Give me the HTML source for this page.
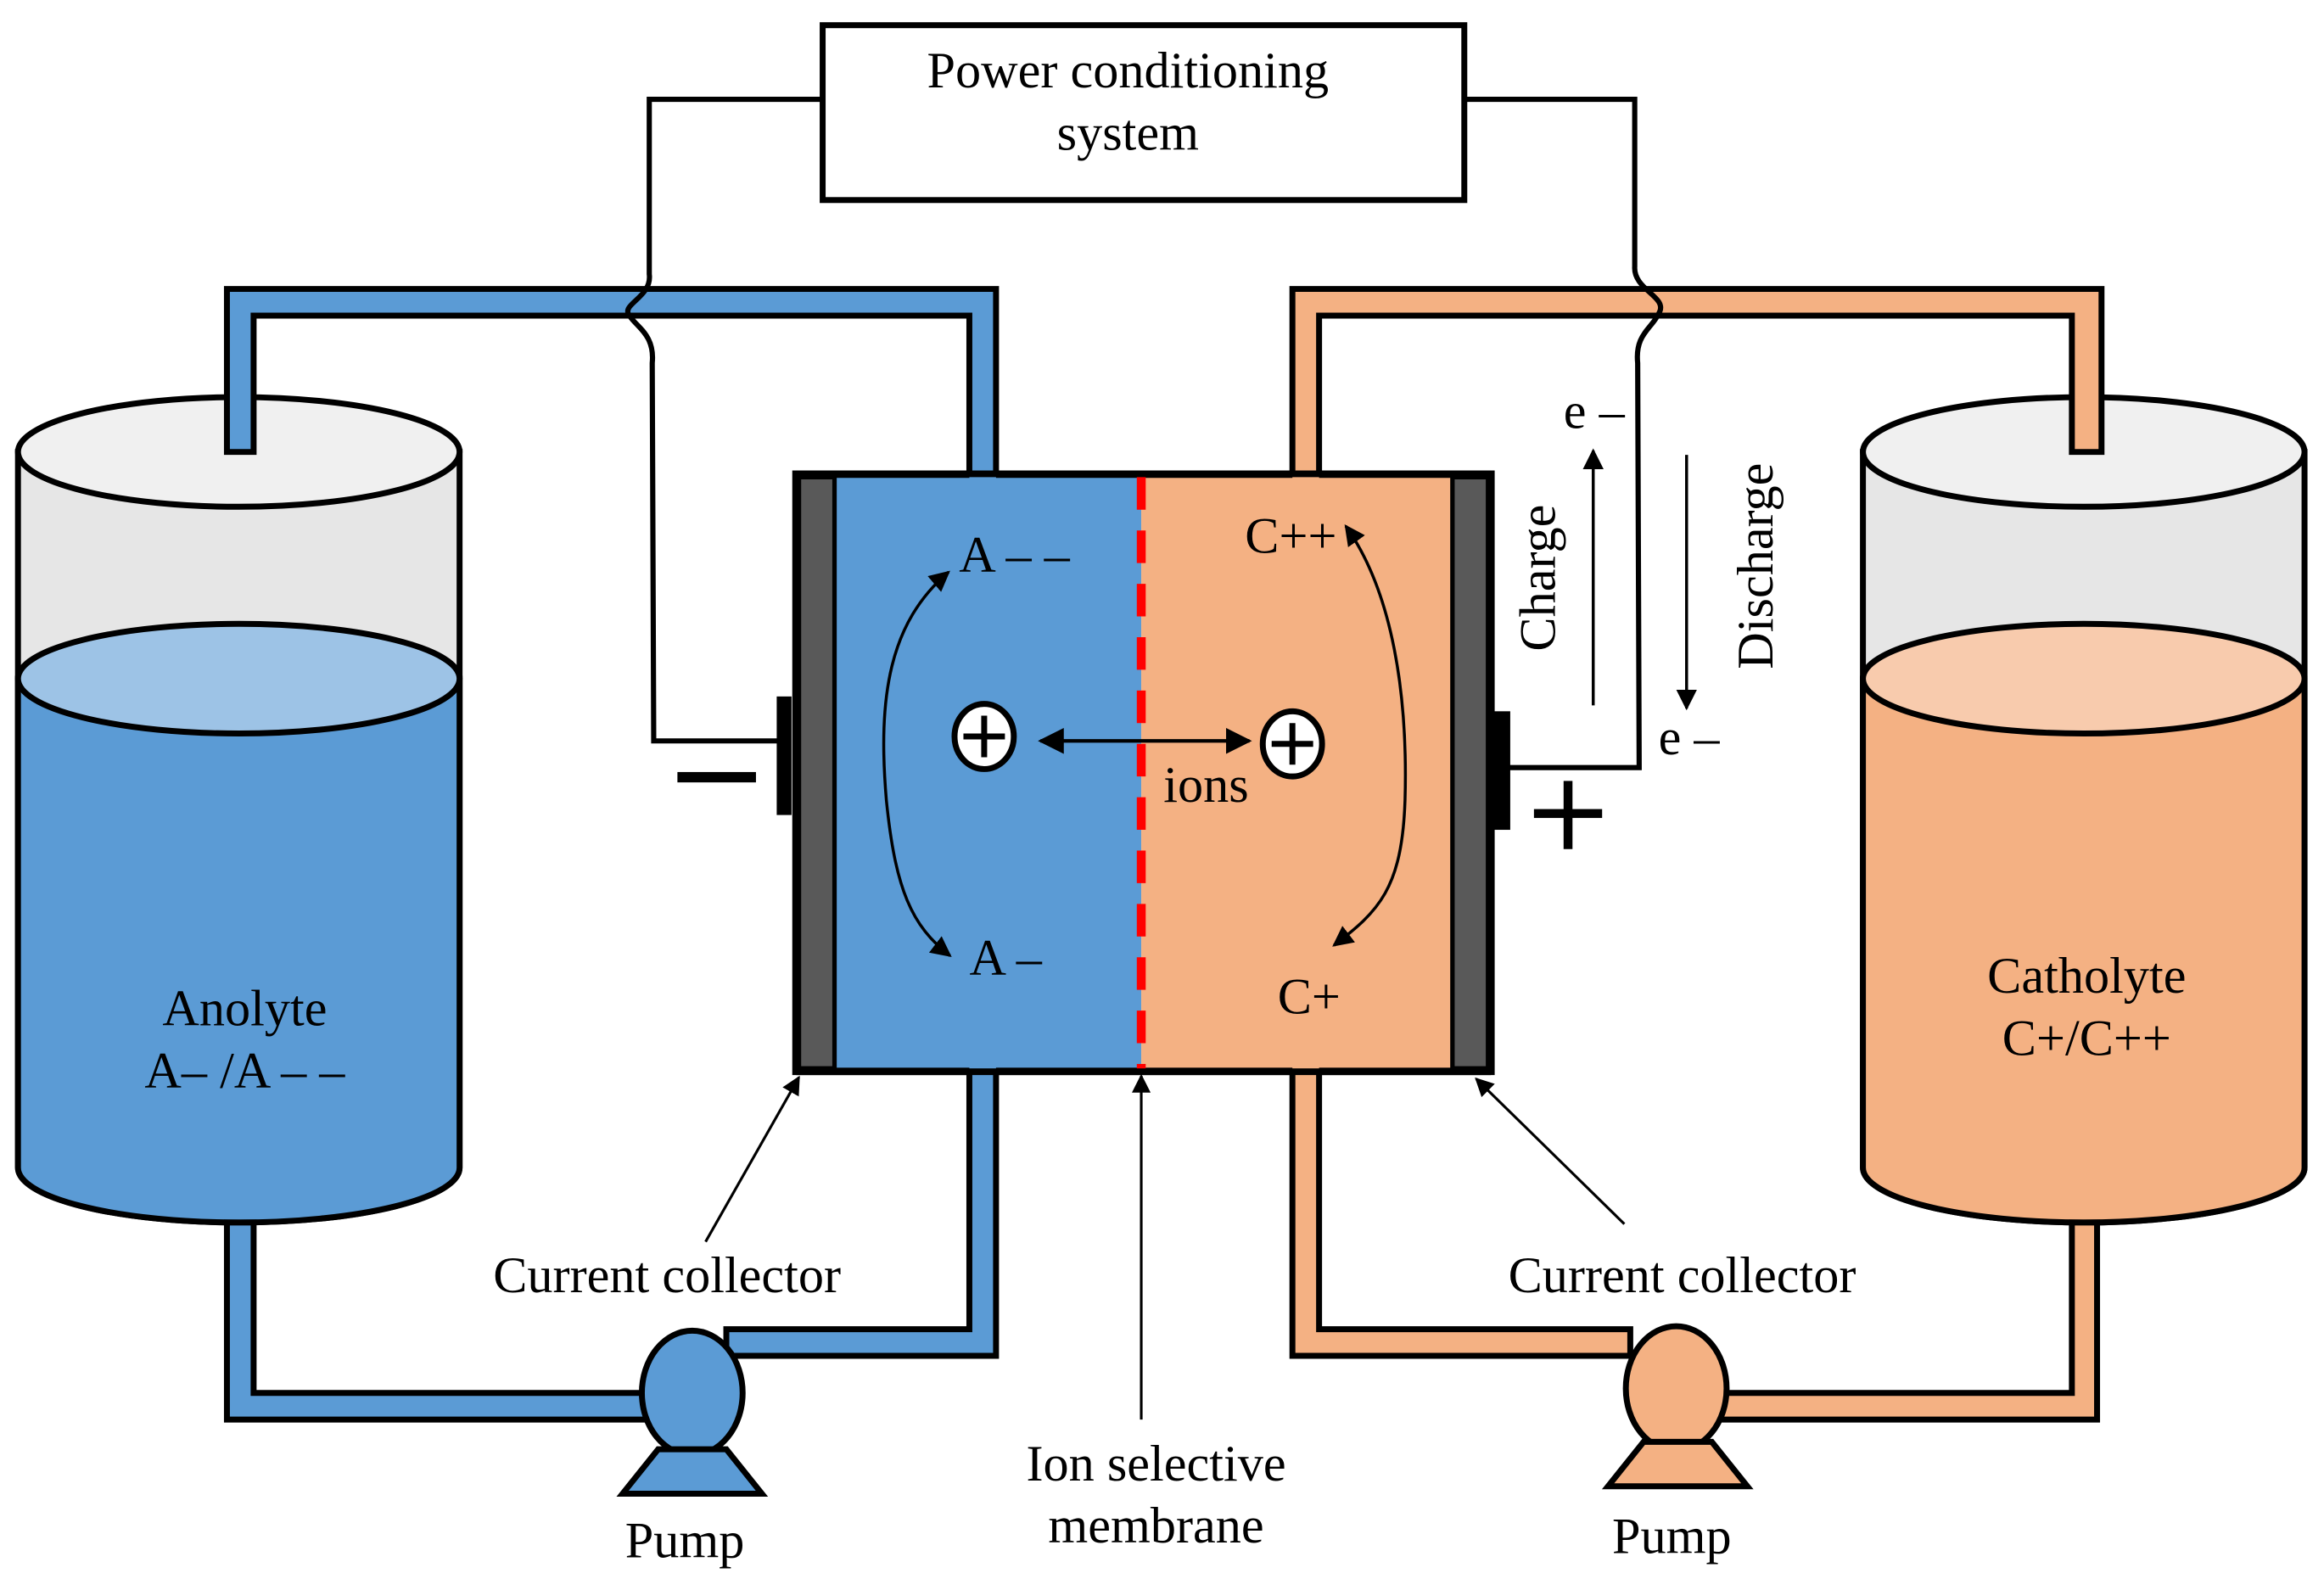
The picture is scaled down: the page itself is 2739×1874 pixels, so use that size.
<!DOCTYPE html>
<html><head><meta charset="utf-8"><style>html,body{margin:0;padding:0;background:#fff}svg{display:block}</style></head>
<body>
<svg width="2739" height="1874" viewBox="0 0 1568 1073" xmlns="http://www.w3.org/2000/svg" font-family="Liberation Serif, serif" font-size="34.5">
<defs>
<marker id="ah2" viewBox="0 0 10 10" refX="9" refY="5" markerWidth="7" markerHeight="7" orient="auto-start-reverse"><path d="M0,0L10,5L0,10z" fill="#000"/></marker>
</defs>
<rect x="555" y="17" width="433" height="118" fill="#fff" stroke="#000" stroke-width="4"/>
<text x="761" y="59" text-anchor="middle">Power conditioning</text>
<text x="761" y="101" text-anchor="middle">system</text>

<path d="M12,305 L12,788 A149,37 0 0 0 310,788 L310,305 Z" fill="#e6e6e6" stroke="#000" stroke-width="4"/>
<path d="M12,458 L12,788 A149,37 0 0 0 310,788 L310,458 Z" fill="#5b9bd5" stroke="#000" stroke-width="4"/>
<ellipse cx="161" cy="458" rx="149" ry="37" fill="#9dc3e6" stroke="#000" stroke-width="4"/>
<ellipse cx="161" cy="305" rx="149" ry="37" fill="#f0f0f0" stroke="#000" stroke-width="4"/>
<path d="M1257,305 L1257,788 A149,37 0 0 0 1555,788 L1555,305 Z" fill="#e6e6e6" stroke="#000" stroke-width="4"/>
<path d="M1257,458 L1257,788 A149,37 0 0 0 1555,788 L1555,458 Z" fill="#f4b183" stroke="#000" stroke-width="4"/>
<ellipse cx="1406" cy="458" rx="149" ry="37" fill="#f8cbad" stroke="#000" stroke-width="4"/>
<ellipse cx="1406" cy="305" rx="149" ry="37" fill="#f0f0f0" stroke="#000" stroke-width="4"/>

<path d="M153,305 L153,195 L672,195 L672,322 L654,322 L654,213 L171,213 L171,305 Z" fill="#5b9bd5" stroke="#000" stroke-width="4"/>
<path d="M872,322 L872,195 L1418,195 L1418,305 L1398,305 L1398,213 L890,213 L890,322 Z" fill="#f4b183" stroke="#000" stroke-width="4"/>
<path d="M153,825 L153,958 L440,958 L440,940 L171,940 L171,825 Z" fill="#5b9bd5" stroke="#000" stroke-width="4"/>
<path d="M490,915 L672,915 L672,721 L654,721 L654,897 L490,897 Z" fill="#5b9bd5" stroke="#000" stroke-width="4"/>
<path d="M1100,915 L872,915 L872,721 L890,721 L890,897 L1100,897 Z" fill="#f4b183" stroke="#000" stroke-width="4"/>
<path d="M1160,940 L1398,940 L1398,825 L1415,825 L1415,958 L1160,958 Z" fill="#f4b183" stroke="#000" stroke-width="4"/>

<rect x="537" y="320" width="469" height="403" fill="none" stroke="#000" stroke-width="5"/>
<rect x="563" y="322" width="207" height="399" fill="#5b9bd5"/>
<rect x="770" y="322" width="210" height="399" fill="#f4b183"/>
<path d="M537,320 L654,320 M672,320 L872,320 M890,320 L1006,320 M537,723 L654,723 M672,723 L872,723 M890,723 L1006,723" stroke="#000" stroke-width="5"/>
<rect x="539" y="322" width="24" height="399" fill="#595959" stroke="#000" stroke-width="3"/>
<rect x="980" y="322" width="24" height="399" fill="#595959" stroke="#000" stroke-width="3"/>
<line x1="770" y1="322" x2="770" y2="721" stroke="#ff0000" stroke-width="6" stroke-dasharray="22 14"/>

<ellipse cx="467" cy="940" rx="34" ry="42" fill="#5b9bd5" stroke="#000" stroke-width="4"/>
<path d="M420,1008 L514,1008 L490,978 L444,978 Z" fill="#5b9bd5" stroke="#000" stroke-width="4"/>
<ellipse cx="1131" cy="937" rx="34" ry="42" fill="#f4b183" stroke="#000" stroke-width="4"/>
<path d="M1085,1003 L1179,1003 L1155,973 L1109,973 Z" fill="#f4b183" stroke="#000" stroke-width="4"/>

<path d="M555,67 L438,67 L438,185 C440,200 420,205 424,212 C428,220 442,225 440,245 L441,500 L526,500" fill="none" stroke="#000" stroke-width="3.5"/>
<rect x="524" y="470" width="10" height="80" fill="#000"/>
<rect x="457" y="521" width="53" height="7" fill="#000"/>
<path d="M988,67 L1103,67 L1103,180 C1102,195 1124,200 1120,210 C1115,222 1103,225 1105,245 L1106,518 L1018,518" fill="none" stroke="#000" stroke-width="3.5"/>
<rect x="1008" y="480" width="11" height="80" fill="#000"/>
<rect x="1035" y="546" width="46" height="6" fill="#000"/>
<rect x="1055" y="527" width="6" height="46" fill="#000"/>

<ellipse cx="664" cy="497" rx="20" ry="22" fill="#fff" stroke="#000" stroke-width="4"/>
<path d="M650,497H678M664,483V511" stroke="#000" stroke-width="4"/>
<ellipse cx="872" cy="502" rx="20" ry="22" fill="#fff" stroke="#000" stroke-width="4"/>
<path d="M858,502H886M872,488V516" stroke="#000" stroke-width="4"/>
<line x1="702" y1="500" x2="843" y2="500" stroke="#000" stroke-width="2.5" marker-start="url(#ah2)" marker-end="url(#ah2)"/>
<path d="M640,386 C600,420 592,470 598,540 C604,600 615,625 641,645" fill="none" stroke="#000" stroke-width="2" marker-start="url(#ah2)" marker-end="url(#ah2)"/>
<path d="M908,355 C940,400 950,470 948,540 C946,600 930,615 900,638" fill="none" stroke="#000" stroke-width="2" marker-start="url(#ah2)" marker-end="url(#ah2)"/>
<line x1="1075" y1="476" x2="1075" y2="304" stroke="#000" stroke-width="2" marker-end="url(#ah2)"/>
<line x1="1138" y1="307" x2="1138" y2="478" stroke="#000" stroke-width="2" marker-end="url(#ah2)"/>

<line x1="476" y1="838" x2="539" y2="727" stroke="#000" stroke-width="1.8" marker-end="url(#ah2)"/>
<line x1="1096" y1="826" x2="996" y2="728" stroke="#000" stroke-width="1.8" marker-end="url(#ah2)"/>
<line x1="770" y1="958" x2="770" y2="726" stroke="#000" stroke-width="1.8" marker-end="url(#ah2)"/>

<text x="165" y="692" text-anchor="middle">Anolyte</text>
<text x="165" y="734" text-anchor="middle">A– /A – –</text>
<text x="1408" y="670" text-anchor="middle">Catholyte</text>
<text x="1408" y="712" text-anchor="middle">C+/C++</text>
<text x="450" y="872" text-anchor="middle">Current collector</text>
<text x="1135" y="872" text-anchor="middle">Current collector</text>
<text x="462" y="1051" text-anchor="middle">Pump</text>
<text x="1128" y="1048" text-anchor="middle">Pump</text>
<text x="780" y="999" text-anchor="middle">Ion selective</text>
<text x="780" y="1041" text-anchor="middle">membrane</text>
<text x="647" y="386">A – –</text>
<text x="654" y="658">A –</text>
<text x="840" y="373">C++</text>
<text x="862" y="684">C+</text>
<text x="785" y="541">ions</text>
<text x="1055" y="289">e –</text>
<text x="1119" y="509">e –</text>
<text transform="translate(1049,390) rotate(-90)" text-anchor="middle">Charge</text>
<text transform="translate(1196,382) rotate(-90)" text-anchor="middle">Discharge</text>
</svg>
</body></html>
